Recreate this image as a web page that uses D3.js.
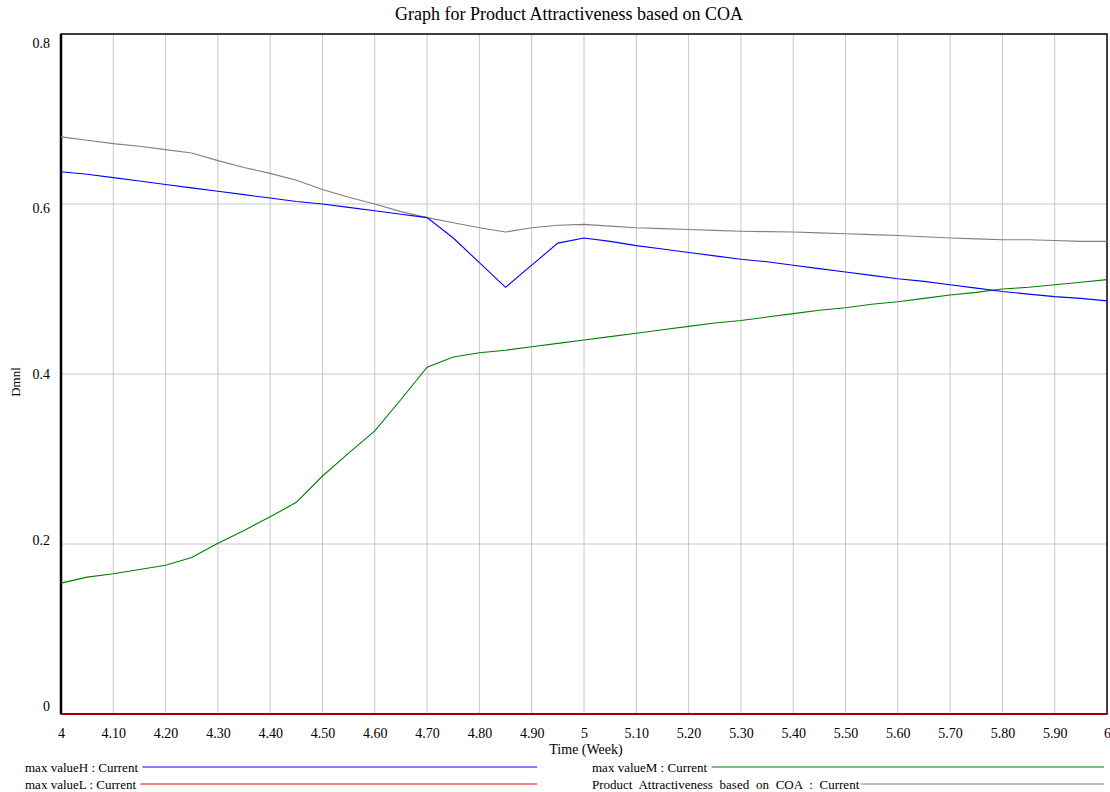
<!DOCTYPE html>
<html>
<head>
<meta charset="utf-8">
<script src="https://cdn.jsdelivr.net/npm/d3@7"></script>
<style>
  html, body { margin: 0; padding: 0; background: #fff; }
  svg { display: block; }
  text { font-family: "Liberation Serif", "Times New Roman", serif; fill: #000; }
</style>
</head>
<body>
<svg id="chart" width="1110" height="792"></svg>
<script>
// time in weeks, one point every 0.05
const times = d3.range(0, 41).map(i => +(4 + i * 0.05).toFixed(2));

const maxValueH = [
  0.638, 0.635, 0.631, 0.627, 0.623, 0.619, 0.615, 0.611, 0.607, 0.603,
  0.600, 0.596, 0.592, 0.588, 0.584, 0.560, 0.531, 0.502, 0.528, 0.554,
  0.560, 0.556, 0.551, 0.547, 0.543, 0.539, 0.535, 0.532, 0.528, 0.524,
  0.520, 0.516, 0.512, 0.509, 0.505, 0.501, 0.497, 0.494, 0.491, 0.489,
  0.486
];

const maxValueM = [
  0.154, 0.161, 0.165, 0.170, 0.175, 0.184, 0.201, 0.216, 0.232, 0.249,
  0.280, 0.307, 0.333, 0.370, 0.408, 0.420, 0.425, 0.428, 0.432, 0.436,
  0.440, 0.444, 0.448, 0.452, 0.456, 0.460, 0.463, 0.467, 0.471, 0.475,
  0.478, 0.482, 0.485, 0.489, 0.493, 0.496, 0.500, 0.502, 0.505, 0.508,
  0.511
];

const maxValueL = times.map(() => 0);

const productAttractiveness = [
  0.679, 0.675, 0.671, 0.668, 0.664, 0.660, 0.651, 0.643, 0.636, 0.628,
  0.617, 0.608, 0.600, 0.591, 0.584, 0.578, 0.572, 0.567, 0.572, 0.575,
  0.576, 0.574, 0.572, 0.571, 0.570, 0.569, 0.568, 0.5675, 0.567, 0.566,
  0.565, 0.564, 0.563, 0.5615, 0.560, 0.559, 0.558, 0.558, 0.557, 0.556,
  0.556
];

const xTicks = d3.range(0, 21).map(i => +(4 + i * 0.1).toFixed(1));
const yTicks = [0, 0.2, 0.4, 0.6, 0.8];

const series = [
  {name: "max valueH : Current", values: maxValueH, color: "#0000ff"},
  {name: "max valueM : Current", values: maxValueM, color: "#008000"},
  {name: "max valueL : Current", values: maxValueL, color: "#ff0000"},
  {name: "Product Attractiveness based on COA : Current", values: productAttractiveness, color: "#808080"}
];

const margin = {top: 34, right: 3, bottom: 78, left: 61};
const width = 1110, height = 792;

const svg = d3.select("#chart");

const x = d3.scaleLinear().domain([4, 6]).range([margin.left, width - margin.right]);
const y = d3.scaleLinear().domain([0, 0.8]).range([height - margin.bottom, margin.top]);

// grid
svg.append("g")
  .selectAll("line")
  .data(xTicks.slice(1, -1))
  .join("line")
  .attr("x1", d => x(d)).attr("x2", d => x(d))
  .attr("y1", y(0.8)).attr("y2", y(0))
  .attr("stroke", "#c8c8c8").attr("stroke-width", 1);

svg.append("g")
  .selectAll("line")
  .data(yTicks.slice(1, -1))
  .join("line")
  .attr("x1", x(4)).attr("x2", x(6))
  .attr("y1", d => y(d)).attr("y2", d => y(d))
  .attr("stroke", "#c8c8c8").attr("stroke-width", 1);

// frame
svg.append("rect")
  .attr("x", x(4)).attr("y", y(0.8))
  .attr("width", x(6) - x(4)).attr("height", y(0) - y(0.8))
  .attr("fill", "none").attr("stroke", "#000").attr("stroke-width", 1.5);
svg.append("line")
  .attr("x1", x(4)).attr("x2", x(4))
  .attr("y1", y(0.8)).attr("y2", y(0))
  .attr("stroke", "#000").attr("stroke-width", 2.5);

// lines
const line = d3.line()
  .x((d, i) => x(times[i]))
  .y(d => y(d));

svg.append("g")
  .selectAll("path")
  .data(series.slice().reverse())
  .join("path")
  .attr("d", s => line(s.values))
  .attr("fill", "none")
  .attr("stroke", s => s.color === "#ff0000" ? "#a00000" : s.color)
  .attr("stroke-width", s => s.color === "#ff0000" ? 2 : 1.1);

// axes labels
const xAxis = d3.axisBottom(x)
  .tickValues(xTicks)
  .tickSize(0)
  .tickPadding(0)
  .tickFormat(d => Number.isInteger(d) ? d3.format("d")(d) : d3.format(".2f")(d));

svg.append("g")
  .attr("transform", `translate(0,${y(0) + 14})`)
  .call(xAxis)
  .call(g => g.select(".domain").remove())
  .selectAll("text")
  .attr("font-size", 14)
  .attr("font-family", "Liberation Serif, serif")
  .attr("fill", "#000");

const yOffsets = {0: -8, 0.2: -4, 0.4: 0, 0.6: 4, 0.8: 9};
const yAxis = d3.axisLeft(y)
  .tickValues(yTicks)
  .tickSize(0)
  .tickPadding(11)
  .tickFormat(d => d === 0 ? "0" : d3.format(".1f")(d));

svg.append("g")
  .attr("transform", `translate(${x(4)},0)`)
  .call(yAxis)
  .call(g => g.select(".domain").remove())
  .selectAll("text")
  .attr("font-size", 14)
  .attr("font-family", "Liberation Serif, serif")
  .attr("fill", "#000")
  .attr("y", d => yOffsets[d]);

svg.append("text")
  .attr("x", 569).attr("y", 20)
  .attr("text-anchor", "middle")
  .attr("font-size", 18)
  .text("Graph for Product Attractiveness based on COA");

svg.append("text")
  .attr("x", 586).attr("y", 754)
  .attr("text-anchor", "middle")
  .attr("font-size", 14)
  .text("Time (Week)");

svg.append("text")
  .attr("transform", "translate(20,382) rotate(-90)")
  .attr("text-anchor", "middle")
  .attr("font-size", 13)
  .text("Dmnl");

// legend
const legendPos = [
  {x: 25, y: 767, x2: 537, ws: 0},
  {x: 592, y: 767, x2: 1104, ws: 0},
  {x: 25, y: 784, x2: 537, ws: 0},
  {x: 592, y: 784, x2: 1104, ws: 3.5}
];

const legend = svg.append("g")
  .selectAll("g")
  .data(series)
  .join("g")
  .attr("transform", (s, i) => `translate(${legendPos[i].x},${legendPos[i].y})`);

legend.append("text")
  .attr("font-size", 13)
  .attr("dy", "0.35em")
  .attr("word-spacing", (s, i) => legendPos[i].ws)
  .text(s => s.name)
  .each(function(s, i) {
    legendPos[i].w = this.getBBox().width;
  });

legend.append("line")
  .attr("x1", (s, i) => legendPos[i].w + (legendPos[i].ws ? 1 : 4))
  .attr("x2", (s, i) => legendPos[i].x2 - legendPos[i].x)
  .attr("y1", 0).attr("y2", 0)
  .attr("stroke", s => s.color)
  .attr("stroke-width", 1.2);
</script>
</body>
</html>
